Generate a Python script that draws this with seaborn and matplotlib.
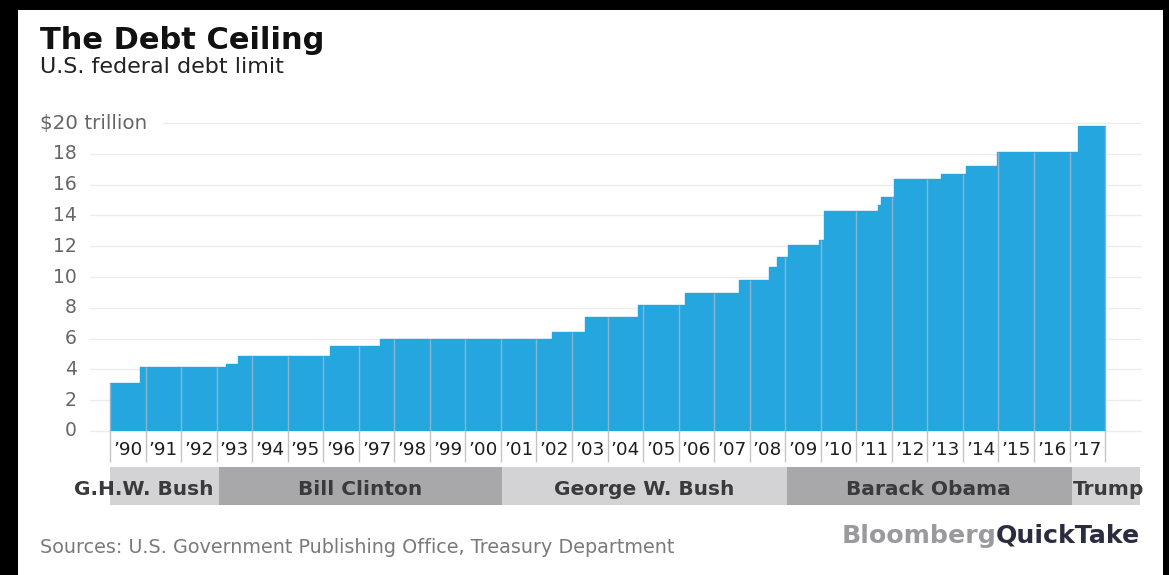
import numpy as np
import pandas as pd
import matplotlib
matplotlib.use("Agg")
import matplotlib.pyplot as plt
import matplotlib.patches as mpatches
import seaborn as sns

# ---- data ----
change_dates = [1990.0, 1990.85, 1993.25, 1993.6, 1996.2, 1997.6, 2002.43, 2003.37,
                2004.87, 2006.18, 2007.69, 2008.53, 2008.77, 2009.08, 2009.96, 2010.1,
                2011.6, 2011.7, 2012.05, 2013.37, 2014.08, 2014.97, 2017.25]
debt_limit = [3.12, 4.15, 4.37, 4.9, 5.5, 5.95, 6.4, 7.38,
              8.18, 8.97, 9.82, 10.62, 11.32, 12.1, 12.39, 14.29,
              14.69, 15.19, 16.39, 16.7, 17.21, 18.11, 19.81]
end_date = 2018.0

y_ticks = [0, 2, 4, 6, 8, 10, 12, 14, 16, 18]
top_tick_label = "$20 trillion"
years = list(range(1990, 2018))
year_labels = ["\u2019" + str(y)[2:] for y in years]

presidents = ["G.H.W. Bush", "Bill Clinton", "George W. Bush", "Barack Obama", "Trump"]
term_start = [1990.0, 1993.07, 2001.03, 2009.05, 2017.07]
term_end = [1993.07, 2001.03, 2009.05, 2017.07, 2018.97]
label_x = [1990.96, 1997.03, 2005.04, 2013.03, 2018.11]

# ---- style ----
sns.set_theme(style="white")
plt.rcParams["font.family"] = ["DejaVu Sans"]

BLUE = "#25a6de"
W, H = 1169, 575
fig = plt.figure(figsize=(W / 100, H / 100), dpi=100)
fig.patch.set_facecolor("black")
fig.patches.append(mpatches.Rectangle((18 / W, 0), (1163 - 18) / W, 1 - 10 / H,
                                      transform=fig.transFigure, facecolor="white",
                                      edgecolor="none", zorder=-10))

def fx(px):
    return px / W

def fy(py):
    return 1 - py / H

ymin, ymax = -4.81, 20.2
xmin, xmax = 1989.437, 2019.04
ax = fig.add_axes([fx(90), fy(505.1), (1142 - 90) / W, (505.1 - 119.9) / H])
ax.set_zorder(1)
ax.set_facecolor("none")
ax.patch.set_alpha(0)
ax.set_xlim(xmin, xmax)
ax.set_ylim(ymin, ymax)

# gridlines
for t in y_ticks:
    ax.axhline(t, color="#ececec", lw=1, zorder=1)
ax.axhline(20, xmin=(163 - 90) / (1142 - 90), color="#ececec", lw=1, zorder=1)

# step area
xs = change_dates + [end_date]
ys = debt_limit + [debt_limit[-1]]
df = pd.DataFrame({"date": xs, "limit": ys})
ax.fill_between(df["date"], 0, df["limit"], step="post", color=BLUE, lw=0, zorder=2)
sns.lineplot(data=df, x="date", y="limit", drawstyle="steps-post", color=BLUE,
             lw=1, ax=ax, zorder=3)

# year separators
bounds = years + [years[-1] + 1]
for b in bounds:
    idx = np.searchsorted(change_dates, b, side="right") - 1
    idx = max(idx, 0)
    top = debt_limit[idx]
    ax.plot([b, b], [0, top], color="#86b6d2", lw=1, zorder=4, solid_capstyle="butt")
    ax.plot([b, b], [-2.0, 0], color="#c4c4c4", lw=1, zorder=4, solid_capstyle="butt")

for y, lab in zip(years, year_labels):
    ax.text(y + 0.5, -1.56, lab, ha="center", va="baseline", fontsize=13.2,
            color="#1e1e1e")

# presidents band
band_colors = ["#d3d3d5", "#a8a8aa", "#d3d3d5", "#a8a8aa", "#d3d3d5"]
ax.barh(y=-3.575, width=np.array(term_end) - np.array(term_start), left=term_start,
        height=2.47, color=band_colors, lw=0, zorder=1)
for name, lx in zip(presidents, label_x):
    ax.text(lx, -4.16, name, ha="center", va="baseline", fontsize=14.5,
            fontweight="bold", color="#3a3a3c", zorder=5)

ax.set_xlim(xmin, xmax)
ax.set_ylim(ymin, ymax)
ax.set_xlabel("")
ax.set_ylabel("")
ax.set_xticks([])
ax.set_yticks([])
for s in ax.spines.values():
    s.set_visible(False)
ax.grid(False)

# y labels
for t in y_ticks:
    fig.text(fx(77), fy(431 - t * 15.4), str(t), ha="right", va="center",
             fontsize=13.5, color="#666666")
fig.text(fx(40), fy(123), top_tick_label, ha="left", va="center",
         fontsize=14.3, color="#666666")

# titles
fig.text(fx(40), fy(49), "The Debt Ceiling", ha="left", va="baseline",
         fontsize=22, fontweight="bold", color="#111111")
fig.text(fx(40), fy(72.7), "U.S. federal debt limit", ha="left", va="baseline",
         fontsize=16, color="#222222")

# footer
fig.text(fx(40), fy(553), "Sources: U.S. Government Publishing Office, Treasury Department",
         ha="left", va="baseline", fontsize=13.8, color="#7a7a7a")
fig.text(fx(996), fy(543), "Bloomberg", ha="right", va="baseline", fontsize=18.2,
         fontweight="bold", color="#9a9a9c")
fig.text(fx(996), fy(543), "QuickTake", ha="left", va="baseline", fontsize=18.2,
         fontweight="bold", color="#2a2c40")

fig.savefig("out.png", dpi=100, facecolor=fig.get_facecolor())
